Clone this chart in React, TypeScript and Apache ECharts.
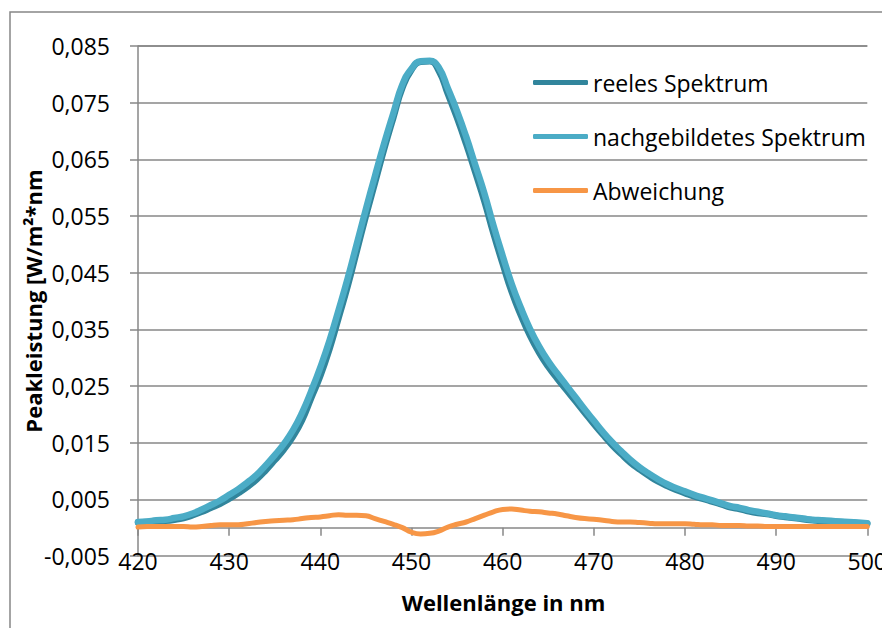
import React, { useEffect, useRef } from "react";
import * as echarts from "echarts";

const wavelengths: number[] = [
  420, 421, 422, 423, 424, 425, 426, 427, 428, 429,
  430, 431, 432, 433, 434, 435, 436, 437, 438, 439,
  440, 441, 442, 443, 444, 445, 446, 447, 448, 449,
  450, 451, 452, 453, 454, 455, 456, 457, 458, 459,
  460, 461, 462, 463, 464, 465, 466, 467, 468, 469,
  470, 471, 472, 473, 474, 475, 476, 477, 478, 479,
  480, 481, 482, 483, 484, 485, 486, 487, 488, 489,
  490, 491, 492, 493, 494, 495, 496, 497, 498, 499, 500,
];

const reelesSpektrum: number[] = [
  0.0009, 0.0010, 0.0011, 0.0012, 0.0014, 0.0017, 0.0022, 0.0028, 0.0035, 0.0042,
  0.0051, 0.0061, 0.0072, 0.0085, 0.0101, 0.0119, 0.0138, 0.0161, 0.0190, 0.0229,
  0.0268, 0.0315, 0.0370, 0.0426, 0.0488, 0.0550, 0.0609, 0.0668, 0.0723, 0.0776,
  0.0808, 0.0822, 0.0823, 0.0806, 0.0765, 0.0723, 0.0677, 0.0627, 0.0576, 0.0519,
  0.0466, 0.0416, 0.0375, 0.0339, 0.0309, 0.0284, 0.0263, 0.0243, 0.0223, 0.0203,
  0.0183, 0.0164, 0.0146, 0.0130, 0.0115, 0.0103, 0.0092, 0.0082, 0.0074, 0.0067,
  0.0061, 0.0055, 0.0051, 0.0046, 0.0041, 0.0036, 0.0033, 0.0029, 0.0026, 0.0024,
  0.0021, 0.0019, 0.0017, 0.0015, 0.0013, 0.0012, 0.0011, 0.0010, 0.0009, 0.0008, 0.0007,
];

const nachgebildetesSpektrum: number[] = [
  0.0010, 0.0011, 0.0013, 0.0014, 0.0017, 0.0020, 0.0025, 0.0032, 0.0040, 0.0048,
  0.0058, 0.0068, 0.0080, 0.0093, 0.0110, 0.0128, 0.0148, 0.0172, 0.0203, 0.0241,
  0.0283, 0.0330, 0.0384, 0.0440, 0.0501, 0.0562, 0.0621, 0.0678, 0.0731, 0.0782,
  0.0810, 0.0823, 0.0824, 0.0812, 0.0775, 0.0735, 0.0690, 0.0640, 0.0590, 0.0533,
  0.0480, 0.0430, 0.0388, 0.0351, 0.0320, 0.0294, 0.0272, 0.0251, 0.0230, 0.0209,
  0.0189, 0.0169, 0.0151, 0.0135, 0.0120, 0.0107, 0.0096, 0.0086, 0.0077, 0.0070,
  0.0064, 0.0058, 0.0053, 0.0048, 0.0043, 0.0038, 0.0035, 0.0031, 0.0028, 0.0025,
  0.0022, 0.0020, 0.0018, 0.0016, 0.0014, 0.0013, 0.0012, 0.0011, 0.0010, 0.0009, 0.0008,
];

const abweichung: number[] = [
  0.0001, 0.0002, 0.0002, 0.0002, 0.0002, 0.0002, 0.0001, 0.0002, 0.0004, 0.0005,
  0.0005, 0.0005, 0.0007, 0.0009, 0.0011, 0.0012, 0.0013, 0.0014, 0.0016, 0.0018,
  0.0019, 0.0021, 0.0023, 0.0022, 0.0022, 0.0021, 0.0016, 0.0011, 0.0006, 0.0000,
  -0.0008, -0.0011, -0.0010, -0.0006, 0.0001, 0.0006, 0.0010, 0.0016, 0.0022, 0.0028,
  0.0032, 0.0033, 0.0031, 0.0029, 0.0028, 0.0026, 0.0024, 0.0021, 0.0018, 0.0016,
  0.0015, 0.0013, 0.0011, 0.0010, 0.0010, 0.0009, 0.0008, 0.0007, 0.0007, 0.0007,
  0.0007, 0.0006, 0.0005, 0.0005, 0.0004, 0.0004, 0.0004, 0.0003, 0.0003, 0.0002,
  0.0002, 0.0002, 0.0002, 0.0002, 0.0002, 0.0002, 0.0002, 0.0002, 0.0002, 0.0002, 0.0002,
];

const seriesNames: string[] = ["reeles Spektrum", "nachgebildetes Spektrum", "Abweichung"];
const seriesColors: string[] = ["#31859c", "#4bacc6", "#f79646"];
const xMin = 420;
const xMax = 500;
const xInterval = 10;
const yMin = -0.005;
const yMax = 0.085;
const yInterval = 0.01;
const xTitle = "Wellenlänge in nm";
const yTitle = "Peakleistung [W/m²*nm";

const FONT = "'Open Sans', 'Noto Sans', sans-serif";
const GRID_COLOR = "#878787";
const FS = 23;

const toPairs = (vals: number[]) => wavelengths.map((w, i) => [w, vals[i]]);

export default function App() {
  const ref = useRef<HTMLDivElement>(null);

  useEffect(() => {
    if (!ref.current) return;
    const chart = echarts.init(ref.current, undefined, { renderer: "svg" });
    const W = 882;
    const H = 620;
    const gridLeft = 130;
    const gridRight = W - 861;
    const gridTop = 38;
    const gridBottom = 72;

    const lineSeries = (idx: number, vals: number[], width: number) => ({
      name: seriesNames[idx],
      type: "line",
      xAxisIndex: 0,
      yAxisIndex: 0,
      data: toPairs(vals),
      symbol: "none",
      showSymbol: false,
      smooth: 0.5,
      lineStyle: { color: seriesColors[idx], width, cap: "round", join: "round" },
      itemStyle: { color: seriesColors[idx] },
      z: 3 + idx,
    });

    const option: any = {
      animation: false,
      backgroundColor: "#ffffff",
      textStyle: { fontFamily: FONT },
      grid: { left: gridLeft, right: gridRight, top: gridTop, bottom: gridBottom, containLabel: false },
      legend: {
        orient: "vertical",
        left: 520,
        top: 58,
        itemWidth: 55,
        itemHeight: 5,
        itemGap: 31,
        icon: "roundRect",
        data: seriesNames.map((n, i) => ({ name: n, itemStyle: { color: seriesColors[i] } })),
        textStyle: { fontFamily: FONT, fontSize: FS, color: "#000", lineHeight: 23 },
      },
      xAxis: [
        {
          type: "value",
          min: xMin,
          max: xMax,
          interval: xInterval,
          position: "bottom",
          axisLine: { show: true, onZero: true, onZeroAxisIndex: 0, lineStyle: { color: GRID_COLOR, width: 1.5 } },
          axisTick: { show: true, length: 8, inside: false, lineStyle: { color: GRID_COLOR, width: 1.5 } },
          axisLabel: { show: false },
          splitLine: { show: false },
        },
        {
          type: "value",
          min: xMin,
          max: xMax,
          interval: xInterval,
          position: "bottom",
          axisLine: { show: false, onZero: false },
          axisTick: { show: false },
          axisLabel: { show: true, margin: -7, fontFamily: FONT, fontSize: FS, color: "#000" },
          splitLine: { show: false },
        },
      ],
      yAxis: [
        {
          type: "value",
          min: yMin,
          max: yMax,
          position: "left",
          axisLine: { show: false, onZero: false },
          axisTick: { show: false },
          axisLabel: { show: false },
          splitLine: { show: false },
        },
        {
          type: "value",
          min: 0,
          max: yMax - yMin,
          interval: yInterval,
          position: "left",
          axisLine: { show: true, onZero: false, lineStyle: { color: GRID_COLOR, width: 1.5 } },
          axisTick: { show: true, length: 8, inside: false, lineStyle: { color: GRID_COLOR, width: 1.5 } },
          axisLabel: {
            show: true,
            margin: 28,
            fontFamily: FONT,
            fontSize: FS,
            color: "#000",
            formatter: (v: number) => (v + yMin).toFixed(3).replace(".", ","),
          },
          splitLine: { show: true, lineStyle: { color: GRID_COLOR, width: 1.5 } },
        },
      ],
      series: [
        lineSeries(0, reelesSpektrum, 6.5),
        lineSeries(1, nachgebildetesSpektrum, 6.5),
        lineSeries(2, abweichung, 5),
      ],
      graphic: [
        {
          type: "polyline",
          shape: { points: [[2, H + 60], [2, 4], [W + 60, 4]] },
          style: { fill: "none", stroke: GRID_COLOR, lineWidth: 1.5 },
          silent: true,
          z: -10,
        },
        {
          type: "text",
          x: gridLeft + (W - gridLeft - gridRight) / 2,
          y: 594,
          style: {
            text: xTitle,
            fontFamily: FONT,
            fontSize: 22,
            fontWeight: "bold",
            fill: "#000",
            align: "center",
            verticalAlign: "middle",
          },
        },
        {
          type: "text",
          x: 25,
          y: gridTop + (H - gridTop - gridBottom) / 2,
          rotation: Math.PI / 2,
          style: {
            text: yTitle,
            fontFamily: FONT,
            fontSize: 22,
            fontWeight: "bold",
            fill: "#000",
            align: "center",
            verticalAlign: "middle",
          },
        },
      ],
    };

    chart.setOption(option);
    return () => chart.dispose();
  }, []);

  return <div ref={ref} style={{ width: 882, height: 620 }} />;
}
